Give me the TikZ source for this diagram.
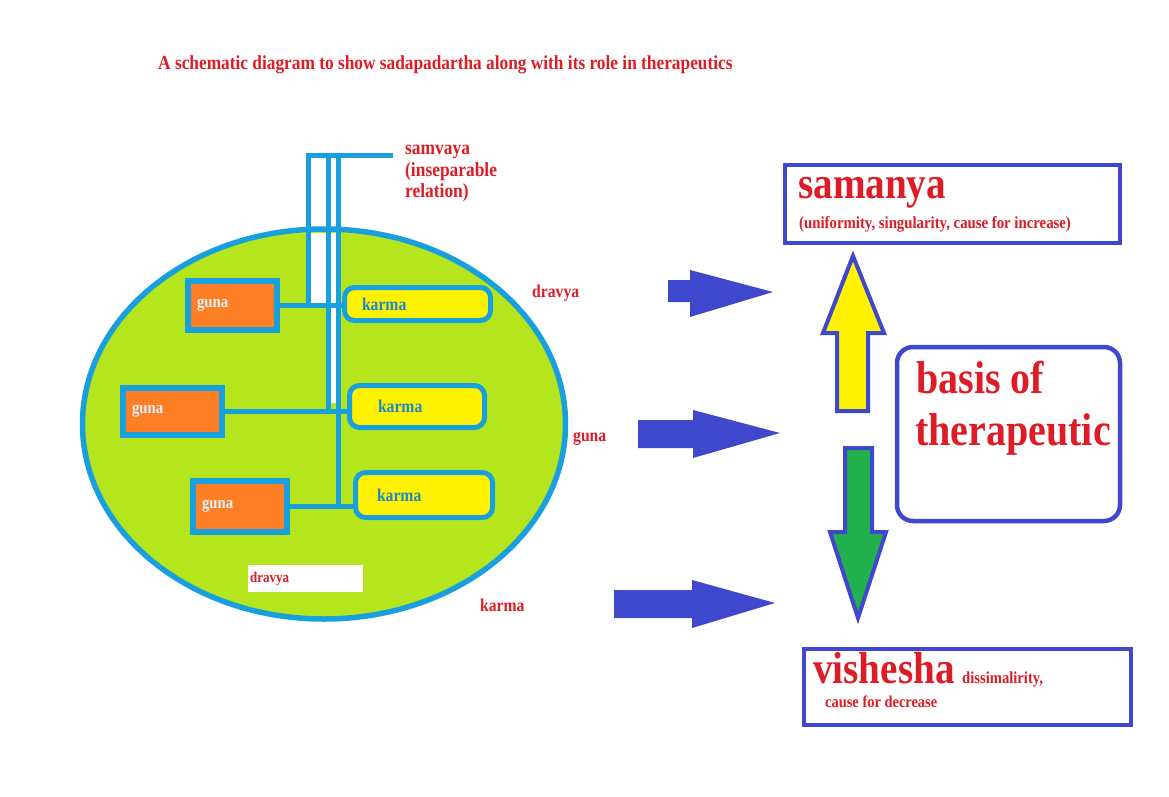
\documentclass[tikz,border=0pt]{standalone}
\usepackage{fontspec}
\setmainfont{Liberation Serif}[FakeStretch=0.87]
\usetikzlibrary{shapes.geometric}
\definecolor{cLime}{RGB}{181,230,29}
\definecolor{cSky}{RGB}{24,160,222}
\definecolor{cKtext}{RGB}{30,135,205}
\definecolor{cOrange}{RGB}{255,127,39}
\definecolor{cYellow}{RGB}{255,242,0}
\definecolor{cGreen}{RGB}{34,177,76}
\definecolor{cBlue}{RGB}{63,72,204}
\definecolor{cRed}{RGB}{222,28,38}
\newcommand\myfs[2]{\fontsize{#1}{#2}\selectfont}
\begin{document}
\begin{tikzpicture}[x=1pt,y=-1pt,
  redtxt/.style={text=cRed, font=\bfseries, inner sep=0pt, anchor=base west},
  gunabox/.style={draw=cSky, line width=6pt, fill=cOrange, text=white!88!cSky,
    font=\bfseries\myfs{17}{17}, align=left, inner xsep=9pt, inner ysep=0pt},
  karmabox/.style={draw=cSky, line width=5pt, fill=cYellow, rounded corners=10pt,
    text=cKtext, font=\bfseries\myfs{18}{18}, align=left, inner ysep=0pt},
  bus/.style={draw=cSky, line width=5pt},
  bigbox/.style={draw=cBlue, line width=4.5pt, fill=white, inner sep=0pt},
  blockarrow/.style={fill=cBlue},
]
\useasboundingbox (0,0) rectangle (1169,797);

% title
\node[redtxt, font=\bfseries\myfs{19.9}{21}] (title) at (158,70)
  {A schematic diagram to show sadapadartha along with its role in therapeutics};

% dravya ellipse
\node[ellipse, draw=cSky, line width=5.5pt, fill=cLime, minimum width=483pt,
  minimum height=390pt, inner sep=0pt] (drv) at (324,424) {};
\fill[white] (308,233) rectangle (328,303);
\fill[white] (328,233) rectangle (338,403);

% guna boxes
\node[gunabox, text width=71pt, minimum height=49pt] (g1) at (232.5,305.5) {guna};
\node[gunabox, text width=81pt, minimum height=47pt] (g2) at (172.5,411.5) {guna};
\node[gunabox, text width=76pt, minimum height=51pt] (g3) at (240,506.5) {guna};

% karma boxes
\node[karmabox, inner xsep=17.5pt, text width=111pt, minimum height=33pt] (k1) at (417.5,304) {karma};
\node[karmabox, inner xsep=28.5pt, text width=78pt, minimum height=42pt] (k2) at (417,406.5) {karma};
\node[karmabox, inner xsep=21.5pt, text width=94pt, minimum height=45pt] (k3) at (424,495) {karma};

% samvaya bus
\node[redtxt, font=\bfseries\myfs{20}{21.5}, align=left, anchor=north west] (samv) at (405,145)
  {samvaya\\(inseparable\\relation)};
\coordinate (s0) at (393,155);
\coordinate (b1) at (308,155);
\coordinate (b2) at (328,155);
\coordinate (b3) at (338,155);
\draw[bus] (s0) -- (b1) -- (b1 |- g1.east);
\draw[bus] (b2) -- (b2 |- g2.east);
\draw[bus] (b3) -- (b3 |- g3.east);
\draw[bus] (g1.east) -- (g1.east -| k1.west);
\draw[bus] (g2.east) -- (g2.east -| k2.west);
\draw[bus] (g3.east) -- (g3.east -| k3.west);

% dravya white box
\node[fill=white, minimum width=115pt, minimum height=27pt, inner xsep=2pt,
  text width=111pt, align=left, text=cRed, font=\bfseries\myfs{15}{15}] (dbox) at (305.5,578.5) {dravya};

% side labels
\node[redtxt, font=\bfseries\myfs{18}{18}] (ldr) at (532,297) {dravya};
\node[redtxt, font=\bfseries\myfs{18}{18}] (lgu) at (573,441) {guna};
\node[redtxt, font=\bfseries\myfs{18}{18}] (lka) at (480,611) {karma};

% blue block arrows
\fill[blockarrow] (668,280) -- (690,280) -- (690,270) -- (773,292) -- (690,317) -- (690,302) -- (668,302) -- cycle;
\fill[blockarrow] (638,420) -- (693,420) -- (693,410) -- (780,433) -- (693,458) -- (693,448) -- (638,448) -- cycle;
\fill[blockarrow] (614,590) -- (692,590) -- (692,580) -- (775,603) -- (692,628) -- (692,618) -- (614,618) -- cycle;

% up / down arrows
\filldraw[draw=cBlue, line width=4pt, fill=cYellow, line join=miter]
  (837,411) -- (837,333) -- (823,333) -- (853,256) -- (884,333) -- (868,333) -- (868,411) -- cycle;
\filldraw[draw=cBlue, line width=4pt, fill=cGreen, line join=miter]
  (845,448) -- (872,448) -- (872,532) -- (886,532) -- (858,618) -- (830,532) -- (845,532) -- cycle;

% samanya
\node[bigbox, minimum width=335pt, minimum height=78pt] (sam) at (952.5,204) {};
\node[redtxt, font=\bfseries\myfs{45}{45}] (samt) at (798,198) {samanya};
\node[redtxt, font=\bfseries\myfs{17}{17}] (sams) at (799,228) {(uniformity, singularity, cause for increase)};

% basis
\node[bigbox, rounded corners=16pt, minimum width=223pt, minimum height=174pt] (bas) at (1008.5,434) {};
\node[redtxt, font=\bfseries\myfs{46}{46}] (bas1) at (916,393) {basis of};
\node[redtxt, font=\bfseries\myfs{46}{46}] (bas2) at (915,445) {therapeutic};

% vishesha
\node[bigbox, minimum width=327pt, minimum height=76pt] (vis) at (967.5,687) {};
\node[redtxt, font=\bfseries\myfs{45}{45}] (vist) at (813,683) {vishesha};
\node[redtxt, font=\bfseries\myfs{16.8}{16.8}] (vis2) at (962,683) {dissimalirity,};
\node[redtxt, font=\bfseries\myfs{16.6}{16.6}] (vis3) at (825,707) {cause for decrease};
\end{tikzpicture}
\end{document}
